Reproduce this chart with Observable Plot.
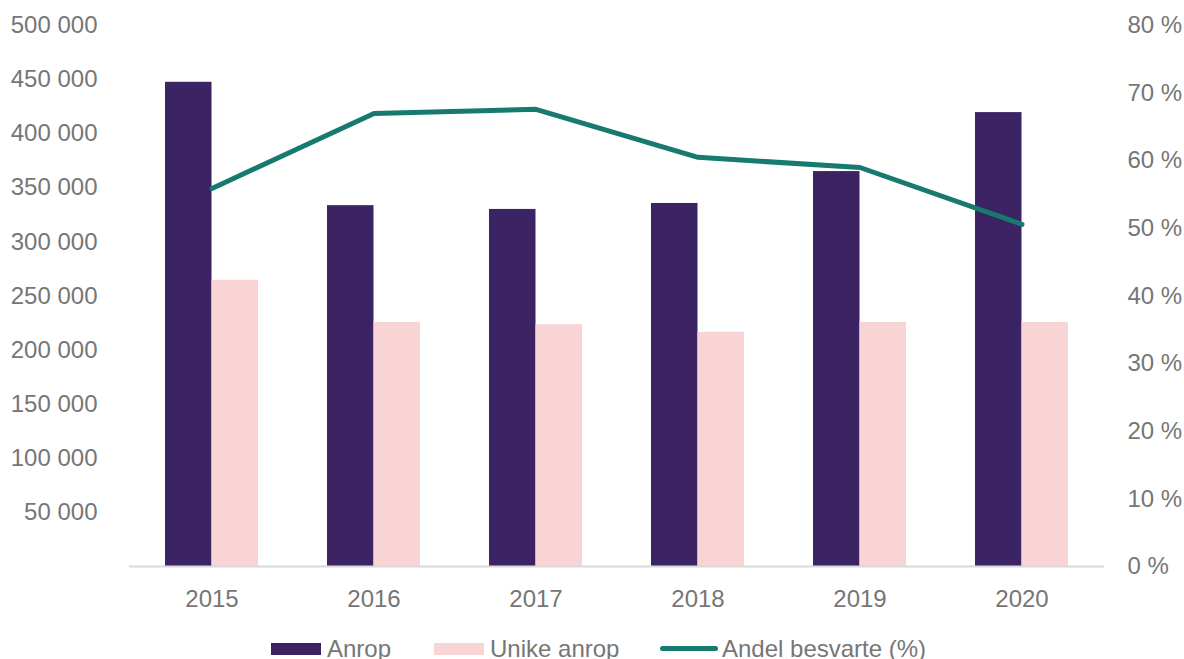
<!DOCTYPE html>
<html>
<head>
<meta charset="utf-8">
<script src="https://cdn.jsdelivr.net/npm/d3@7"></script>
<script src="https://cdn.jsdelivr.net/npm/@observablehq/plot@0.6"></script>
<style>
  html, body { margin: 0; padding: 0; background: #fff; overflow: hidden; }
  #chart { width: 1184px; }
  #legend { position: relative; width: 1184px; height: 34px; font-family: "Liberation Sans", Arial, sans-serif; font-size: 24px; color: #767676; }
  #legend .sw { position: absolute; }
  #legend .lb { position: absolute; line-height: 24px; white-space: nowrap; }
</style>
</head>
<body>
<div id="chart"></div>
<div id="legend"></div>
<script>
const years = ["2015", "2016", "2017", "2018", "2019", "2020"];
const anrop = [447500, 333500, 330000, 335500, 365000, 419500];
const unike = [264500, 225500, 223500, 216500, 225500, 225500];
const andel = [55.9, 67.0, 67.6, 60.5, 59.0, 50.6];
const leftTicks = [50000, 100000, 150000, 200000, 250000, 300000, 350000, 400000, 450000, 500000];
const rightTicks = [0, 10, 20, 30, 40, 50, 60, 70, 80];
const seriesNames = ["Anrop", "Unike anrop", "Andel besvarte (%)"];
const colors = ["#3c2363", "#f9d4d4", "#177a6e"];

const yMax = 500000, pMax = 80;
const toY = p => p / pMax * yMax;

const barData = years.map((y, i) => ({year: y, anrop: anrop[i], unike: unike[i], andel: toY(andel[i])}));
const fmt = d => d3.format(",")(d).replace(/,/g, " ");
const textColor = "#767676";

const chart = Plot.plot({
  width: 1184,
  height: 625,
  marginTop: 25,
  marginBottom: 59,
  marginLeft: 129,
  marginRight: 80,
  style: {fontFamily: "'Liberation Sans', Arial, sans-serif", fontSize: "24px", color: textColor, background: "#fff"},
  x: {domain: years, paddingInner: 0.428, paddingOuter: 0.214, label: null},
  y: {domain: [0, yMax], label: null},
  marks: [
    Plot.barY(barData, {x: "year", y: "anrop", fill: colors[0], insetRight: 46.5, insetLeft: 0}),
    Plot.barY(barData, {x: "year", y: "unike", fill: colors[1], insetLeft: 46.5, insetRight: 0}),
    Plot.ruleY([0], {stroke: "#d9d9d9", strokeWidth: 2}),
    Plot.lineY(barData, {x: "year", y: "andel", stroke: colors[2], strokeWidth: 5, strokeLinecap: "round", strokeLinejoin: "round"}),
    Plot.axisX({tickSize: 0, tickPadding: 23, fill: textColor, label: null, fontSize: 24}),
    Plot.axisY({anchor: "left", ticks: leftTicks, tickFormat: fmt, tickSize: 0, tickPadding: 32, fill: textColor, label: null, fontSize: 24}),
    Plot.axisY({anchor: "right", ticks: rightTicks.map(toY), tickFormat: d => Math.round(d / yMax * pMax) + " %", tickSize: 0, tickPadding: 23, fill: textColor, label: null, fontSize: 24, textAnchor: "start"})
  ]
});
document.getElementById("chart").appendChild(chart);

const legend = document.getElementById("legend");
const items = [
  {sw: {left: 271, top: 18, width: 50, height: 12, background: colors[0]}, lx: 327},
  {sw: {left: 434, top: 18, width: 50, height: 12, background: colors[1]}, lx: 490},
  {sw: {left: 660, top: 21, width: 58, height: 5, background: colors[2], borderRadius: "3px"}, lx: 722}
];
items.forEach((it, i) => {
  const s = document.createElement("div");
  s.className = "sw";
  Object.entries(it.sw).forEach(([k, v]) => s.style[k] = typeof v === "number" ? v + "px" : v);
  legend.appendChild(s);
  const l = document.createElement("div");
  l.className = "lb";
  l.style.left = it.lx + "px";
  l.style.top = "12px";
  l.textContent = seriesNames[i];
  legend.appendChild(l);
});
</script>
</body>
</html>
